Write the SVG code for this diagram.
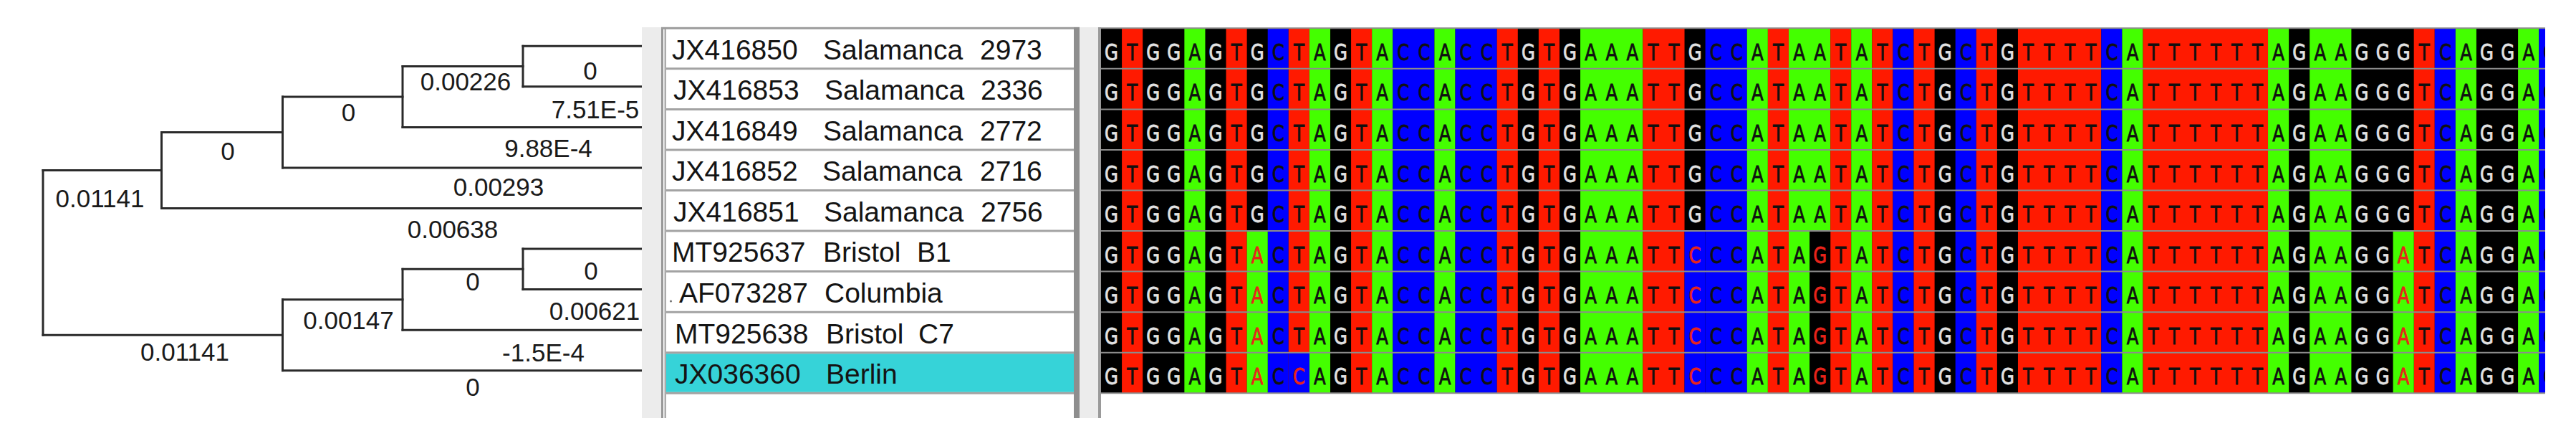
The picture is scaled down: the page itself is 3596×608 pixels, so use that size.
<svg xmlns="http://www.w3.org/2000/svg" width="3596" height="608" viewBox="0 0 3596 608">
<style>
.tl{fill:none;stroke:#2a2a2a;stroke-width:3;stroke-linecap:square}
.bl{font-family:"Liberation Sans",Arial,sans-serif;font-size:35px;fill:#1a1a1a;text-anchor:middle}
.lb{font-family:"Liberation Sans",Arial,sans-serif;font-size:39px;fill:#141414}
.nt{font-family:"DejaVu Sans",sans-serif;font-size:32.5px;text-anchor:middle;stroke-width:0.9}
.g{fill:#000}.t{fill:#ff1a00}.a{fill:#44ff00}.c{fill:#0000ff}
.gl{fill:#e2e2e2;stroke:#e2e2e2}.dk{fill:#101010;stroke:#101010}.mu{fill:#e8231a;stroke:#e8231a}
.sep{stroke:#8c8c8c;stroke-width:2}
.psep{stroke:#a3a3a3;stroke-width:3}
.strip{fill:#ececec}
</style>
<defs>
<clipPath id="alClip"><rect x="1537" y="0" width="2016" height="608"/></clipPath>
<g id="rowA">
<rect class="g" x="1537" y="0" width="2016" height="56.55"/>
<rect class="t" x="1566.09" y="0" width="29.09" height="56.55"/>
<rect class="a" x="1653.36" y="0" width="29.09" height="56.55"/>
<rect class="t" x="1711.54" y="0" width="29.09" height="56.55"/>
<rect class="c" x="1769.72" y="0" width="29.09" height="56.55"/>
<rect class="t" x="1798.81" y="0" width="29.09" height="56.55"/>
<rect class="a" x="1827.90" y="0" width="29.09" height="56.55"/>
<rect class="t" x="1886.08" y="0" width="29.09" height="56.55"/>
<rect class="a" x="1915.17" y="0" width="29.09" height="56.55"/>
<rect class="c" x="1944.26" y="0" width="58.18" height="56.55"/>
<rect class="a" x="2002.44" y="0" width="29.09" height="56.55"/>
<rect class="c" x="2031.53" y="0" width="58.18" height="56.55"/>
<rect class="t" x="2089.71" y="0" width="29.09" height="56.55"/>
<rect class="t" x="2147.89" y="0" width="29.09" height="56.55"/>
<rect class="a" x="2206.07" y="0" width="87.27" height="56.55"/>
<rect class="t" x="2293.34" y="0" width="58.18" height="56.55"/>
<rect class="c" x="2380.61" y="0" width="58.18" height="56.55"/>
<rect class="a" x="2438.79" y="0" width="29.09" height="56.55"/>
<rect class="t" x="2467.88" y="0" width="29.09" height="56.55"/>
<rect class="a" x="2496.97" y="0" width="58.18" height="56.55"/>
<rect class="t" x="2555.15" y="0" width="29.09" height="56.55"/>
<rect class="a" x="2584.24" y="0" width="29.09" height="56.55"/>
<rect class="t" x="2613.33" y="0" width="29.09" height="56.55"/>
<rect class="c" x="2642.42" y="0" width="29.09" height="56.55"/>
<rect class="t" x="2671.51" y="0" width="29.09" height="56.55"/>
<rect class="c" x="2729.69" y="0" width="29.09" height="56.55"/>
<rect class="t" x="2758.78" y="0" width="29.09" height="56.55"/>
<rect class="t" x="2816.96" y="0" width="116.36" height="56.55"/>
<rect class="c" x="2933.32" y="0" width="29.09" height="56.55"/>
<rect class="a" x="2962.41" y="0" width="29.09" height="56.55"/>
<rect class="t" x="2991.50" y="0" width="174.54" height="56.55"/>
<rect class="a" x="3166.04" y="0" width="29.09" height="56.55"/>
<rect class="a" x="3224.22" y="0" width="58.18" height="56.55"/>
<rect class="t" x="3369.67" y="0" width="29.09" height="56.55"/>
<rect class="c" x="3398.76" y="0" width="29.09" height="56.55"/>
<rect class="a" x="3427.85" y="0" width="29.09" height="56.55"/>
<rect class="a" x="3515.12" y="0" width="29.09" height="56.55"/>
<rect class="c" x="3544.21" y="0" width="8.79" height="56.55"/>
<g transform="translate(1537,0) scale(0.75,1)">
<text class="nt gl" y="44.6" x="19.39 96.97 135.76 213.33 290.91 446.06 795.17 872.75 1105.48 1570.94 1687.30 2230.34 2346.71 2385.49 2424.28 2579.43 2618.22">GGGGGGGGGGGGGGGGG</text>
<text class="nt dk" y="44.6" x="58.18 174.54 252.12 329.70 368.49 407.26 484.84 523.63 562.42 601.21 640.00 678.78 717.56 756.35 833.94 911.52 950.31 989.10 1027.89 1066.67 1144.26 1183.05 1221.84 1260.63 1299.41 1338.20 1376.99 1415.78 1454.57 1493.36 1532.15 1609.72 1648.51 1726.09 1764.88 1803.67 1842.46 1881.24 1920.03 1958.82 1997.61 2036.40 2075.19 2113.98 2152.76 2191.55 2269.13 2307.92 2463.07 2501.86 2540.64 2657.01 2695.80">TATCTATACCACCTTAAATTCCATAATATCTCTTTTTCATTTTTTAAATCAAC</text>
</g>
</g>
<g id="mutB">
<rect class="a" x="1740.63" y="0" width="29.09" height="56.55"/>
<rect class="c" x="2351.52" y="0" width="29.09" height="56.55"/>
<rect class="g" x="2526.06" y="0" width="29.09" height="56.55"/>
<rect class="a" x="3340.58" y="0" width="29.09" height="56.55"/>
<g transform="translate(1537,0) scale(0.75,1)">
<text class="nt mu" y="44.6" x="290.91 1105.48 1338.20 2424.28">ACGA</text>
</g>
</g>
<g id="mutC">
<rect class="c" x="1798.81" y="0" width="29.09" height="56.55"/>
<g transform="translate(1537,0) scale(0.75,1)">
<text class="nt mu" y="44.6" x="368.49">C</text>
</g>
</g>
</defs>

<rect x="0" y="0" width="3596" height="608" fill="#ffffff"/>

<!-- tree connectors -->
<g id="tree-connectors" class="tl">
<path d="M60 237.48 V467.22"/>
<path d="M60 237.48 H225.5"/>
<path d="M225.5 184.47 V290.5"/>
<path d="M225.5 184.47 H394.5"/>
<path d="M225.5 290.5 H896"/>
<path d="M394.5 134.99 V233.95"/>
<path d="M394.5 134.99 H562"/>
<path d="M394.5 233.95 H896"/>
<path d="M562 92.58 V177.4"/>
<path d="M562 92.58 H730"/>
<path d="M562 177.4 H896"/>
<path d="M730 64.3 V120.85"/>
<path d="M730 64.3 H896"/>
<path d="M730 120.85 H896"/>
<path d="M60 467.22 H394.5"/>
<path d="M394.5 417.74 V516.7"/>
<path d="M394.5 417.74 H562"/>
<path d="M394.5 516.7 H896"/>
<path d="M562 375.33 V460.15"/>
<path d="M562 375.33 H730"/>
<path d="M562 460.15 H896"/>
<path d="M730 347.05 V403.6"/>
<path d="M730 347.05 H896"/>
<path d="M730 403.6 H896"/>
</g>

<g id="branch-labels" class="bl">
<text x="824" y="111">0</text>
<text x="650" y="126">0.00226</text>
<text x="831" y="165">7.51E-5</text>
<text x="486.5" y="169">0</text>
<text x="765.5" y="219">9.88E-4</text>
<text x="318" y="223">0</text>
<text x="696" y="273.4">0.00293</text>
<text x="139.5" y="289.3">0.01141</text>
<text x="632" y="331.5">0.00638</text>
<text x="825" y="389.6">0</text>
<text x="660" y="405">0</text>
<text x="830" y="445.8">0.00621</text>
<text x="486.5" y="459.4">0.00147</text>
<text x="258" y="502.5">0.01141</text>
<text x="758.5" y="503.9">-1.5E-4</text>
<text x="660" y="552.3">0</text>
</g>

<!-- label panel frame -->
<g id="label-panel">
<rect class="strip" x="896" y="38" width="27" height="545"/>
<rect x="930" y="40" width="569" height="543" fill="#ffffff"/>
<rect x="923" y="38" width="3" height="545" fill="#989898"/>
<rect x="927.5" y="38" width="2.5" height="545" fill="#ababab"/>
<rect x="923" y="37.8" width="584" height="3" fill="#9c9c9c"/>
<rect x="930" y="493.2" width="569" height="53.6" fill="#36d3d8"/>
<line class="psep" x1="930" y1="95.85" x2="1499" y2="95.85"/>
<line class="psep" x1="930" y1="152.4" x2="1499" y2="152.4"/>
<line class="psep" x1="930" y1="208.95" x2="1499" y2="208.95"/>
<line class="psep" x1="930" y1="265.5" x2="1499" y2="265.5"/>
<line class="psep" x1="930" y1="322.05" x2="1499" y2="322.05"/>
<line class="psep" x1="930" y1="378.6" x2="1499" y2="378.6"/>
<line class="psep" x1="930" y1="435.15" x2="1499" y2="435.15"/>
<line class="psep" x1="930" y1="491.7" x2="1499" y2="491.7"/>
<line class="psep" x1="930" y1="548.25" x2="1499" y2="548.25"/>
<rect x="1499" y="38" width="8" height="545" fill="#8e8e8e"/>
<rect class="strip" x="1507" y="38" width="26" height="545"/>
<rect x="1533" y="38" width="4" height="545" fill="#9a9a9a"/>
</g>

<g id="taxon-1"><text class="lb" y="82.7"><tspan x="938">JX416850</tspan><tspan x="1149">Salamanca</tspan><tspan x="1368">2973</tspan></text></g>
<g id="taxon-2"><text class="lb" y="139.25"><tspan x="940">JX416853</tspan><tspan x="1151">Salamanca</tspan><tspan x="1369">2336</tspan></text></g>
<g id="taxon-3"><text class="lb" y="195.8"><tspan x="938">JX416849</tspan><tspan x="1149">Salamanca</tspan><tspan x="1368">2772</tspan></text></g>
<g id="taxon-4"><text class="lb" y="252.35"><tspan x="938">JX416852</tspan><tspan x="1148">Salamanca</tspan><tspan x="1368">2716</tspan></text></g>
<g id="taxon-5"><text class="lb" y="308.9"><tspan x="940">JX416851</tspan><tspan x="1150">Salamanca</tspan><tspan x="1369">2756</tspan></text></g>
<g id="taxon-6"><text class="lb" y="365.45"><tspan x="938">MT925637</tspan><tspan x="1149">Bristol</tspan><tspan x="1280">B1</tspan></text></g>
<g id="taxon-7"><circle cx="936.5" cy="420" r="1.6" fill="#777"/><text class="lb" y="422"><tspan x="948">AF073287</tspan><tspan x="1151">Columbia</tspan></text></g>
<g id="taxon-8"><text class="lb" y="478.55"><tspan x="942">MT925638</tspan><tspan x="1153">Bristol</tspan><tspan x="1282">C7</tspan></text></g>
<g id="taxon-9"><text class="lb" y="535.1"><tspan x="942">JX036360</tspan><tspan x="1153">Berlin</tspan></text></g>

<!-- alignment -->
<g id="alignment" clip-path="url(#alClip)">
<g id="seq-1"><use href="#rowA" transform="translate(0,39.3)"/></g>
<g id="seq-2"><use href="#rowA" transform="translate(0,95.85)"/></g>
<g id="seq-3"><use href="#rowA" transform="translate(0,152.4)"/></g>
<g id="seq-4"><use href="#rowA" transform="translate(0,208.95)"/></g>
<g id="seq-5"><use href="#rowA" transform="translate(0,265.5)"/></g>
<g id="seq-6"><use href="#rowA" transform="translate(0,322.05)"/><use href="#mutB" transform="translate(0,322.05)"/></g>
<g id="seq-7"><use href="#rowA" transform="translate(0,378.6)"/><use href="#mutB" transform="translate(0,378.6)"/></g>
<g id="seq-8"><use href="#rowA" transform="translate(0,435.15)"/><use href="#mutB" transform="translate(0,435.15)"/></g>
<g id="seq-9"><use href="#rowA" transform="translate(0,491.7)"/><use href="#mutB" transform="translate(0,491.7)"/><use href="#mutC" transform="translate(0,491.7)"/></g>
<g id="row-separators">
<line class="sep" x1="1537" y1="39.3" x2="3553" y2="39.3" stroke-width="3"/>
<line class="sep" x1="1537" y1="95.85" x2="3553" y2="95.85"/>
<line class="sep" x1="1537" y1="152.4" x2="3553" y2="152.4"/>
<line class="sep" x1="1537" y1="208.95" x2="3553" y2="208.95"/>
<line class="sep" x1="1537" y1="265.5" x2="3553" y2="265.5"/>
<line class="sep" x1="1537" y1="322.05" x2="3553" y2="322.05"/>
<line class="sep" x1="1537" y1="378.6" x2="3553" y2="378.6"/>
<line class="sep" x1="1537" y1="435.15" x2="3553" y2="435.15"/>
<line class="sep" x1="1537" y1="491.7" x2="3553" y2="491.7"/>
<line class="sep" x1="1537" y1="548.25" x2="3553" y2="548.25" stroke="#b0b0b0"/>
</g>
</g>
</svg>
